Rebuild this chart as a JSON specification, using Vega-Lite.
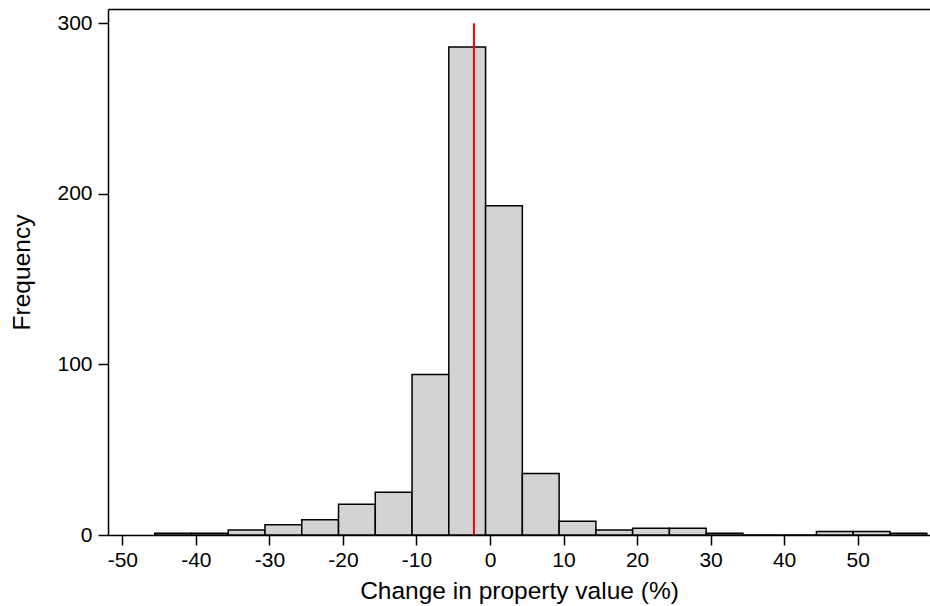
{
  "$schema": "https://vega.github.io/schema/vega-lite/v6.json",
  "width": 822,
  "height": 526,
  "autosize": {"type": "none"},
  "padding": {"left": 108, "top": 9, "right": 0, "bottom": 71},
  "background": "white",
  "config": {
    "view": {"stroke": null},
    "font": "Liberation Sans",
    "axis": {
      "grid": false,
      "domainColor": "#000000",
      "domainWidth": 1.5,
      "tickColor": "#000000",
      "tickWidth": 1.5,
      "tickSize": 10,
      "labelColor": "#000000",
      "labelFontSize": 21,
      "labelFont": "Liberation Sans",
      "titleFont": "Liberation Sans",
      "titleFontSize": 24.5,
      "titleFontWeight": "normal",
      "titleColor": "#000000",
      "labelFlush": false
    }
  },
  "layer": [
    {
      "data": {
        "values": [
          {"start": -45.6, "end": -40.6, "count": 1},
          {"start": -40.6, "end": -35.6, "count": 1},
          {"start": -35.6, "end": -30.6, "count": 3},
          {"start": -30.6, "end": -25.6, "count": 6},
          {"start": -25.6, "end": -20.6, "count": 9},
          {"start": -20.6, "end": -15.6, "count": 18},
          {"start": -15.6, "end": -10.6, "count": 25},
          {"start": -10.6, "end": -5.6, "count": 94},
          {"start": -5.6, "end": -0.6, "count": 286},
          {"start": -0.6, "end": 4.4, "count": 193},
          {"start": 4.4, "end": 9.4, "count": 36},
          {"start": 9.4, "end": 14.4, "count": 8},
          {"start": 14.4, "end": 19.4, "count": 3},
          {"start": 19.4, "end": 24.4, "count": 4},
          {"start": 24.4, "end": 29.4, "count": 4},
          {"start": 29.4, "end": 34.4, "count": 1},
          {"start": 34.4, "end": 39.4, "count": 0},
          {"start": 39.4, "end": 44.4, "count": 0},
          {"start": 44.4, "end": 49.4, "count": 2},
          {"start": 49.4, "end": 54.4, "count": 2},
          {"start": 54.4, "end": 59.4, "count": 1}
        ]
      },
      "mark": {"type": "bar", "fill": "#d3d3d3", "stroke": "#000000", "strokeWidth": 1.5},
      "encoding": {
        "x": {
          "field": "start",
          "type": "quantitative",
          "scale": {"domain": [-51.95, 59.84], "nice": false, "zero": false},
          "axis": {
            "title": "Change in property value (%)",
            "values": [-50, -40, -30, -20, -10, 0, 10, 20, 30, 40, 50],
            "labelExpr": "'' + datum.value",
            "labelPadding": 4,
            "titlePadding": 9
          }
        },
        "x2": {"field": "end"},
        "y": {
          "field": "count",
          "type": "quantitative",
          "scale": {"domain": [0, 308.3], "nice": false},
          "axis": {
            "title": "Frequency",
            "values": [0, 100, 200, 300],
            "labelPadding": 6,
            "titlePadding": 22
          }
        },
        "y2": {"datum": 0}
      }
    },
    {
      "data": {"values": [{"mean": -2.18, "lo": 0, "hi": 300}]},
      "mark": {"type": "rule", "color": "#ff0000", "strokeWidth": 2},
      "encoding": {
        "x": {
          "field": "mean",
          "type": "quantitative",
          "axis": {"orient": "top", "labels": false, "ticks": false, "title": null}
        },
        "y": {"field": "lo", "type": "quantitative", "title": "Frequency"},
        "y2": {"field": "hi"}
      }
    }
  ],
  "resolve": {"axis": {"x": "independent"}}
}
